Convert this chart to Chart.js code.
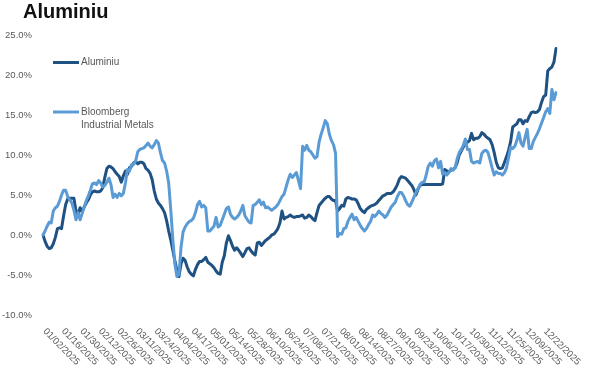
<!DOCTYPE html>
<html>
<head>
<meta charset="utf-8">
<script src="https://cdn.jsdelivr.net/npm/chart.js@4.4.1/dist/chart.umd.min.js"></script>
<style>
  html, body { margin: 0; padding: 0; background: #ffffff; }
  #wrap { width: 600px; height: 372px; position: relative; }
</style>
</head>
<body>
<div id="wrap"><canvas id="c" width="600" height="372"></canvas></div>
<script>
// ---- data ----
const chartTitle = 'Aluminiu';
const seriesNames = ['Aluminiu', 'Bloomberg Industrial Metals'];

// trading-day calendar (NYSE 2025) used as categories
const holidays = ['2025-01-01','2025-01-09','2025-01-20','2025-02-17','2025-04-18','2025-05-26',
                  '2025-06-19','2025-07-04','2025-09-01','2025-11-27','2025-12-25'];
const categories = [];
(function () {
  const d = new Date(Date.UTC(2025, 0, 2));
  const end = new Date(Date.UTC(2025, 11, 31));
  while (d <= end) {
    const dow = d.getUTCDay();
    const iso = d.toISOString().slice(0, 10);
    if (dow !== 0 && dow !== 6 && holidays.indexOf(iso) < 0) {
      categories.push(iso.slice(5, 7) + '/' + iso.slice(8, 10) + '/' + iso.slice(0, 4));
    }
    d.setUTCDate(d.getUTCDate() + 1);
  }
})();

const tickLabels = ['01/02/2025','01/16/2025','01/30/2025','02/12/2025','02/26/2025','03/11/2025',
  '03/24/2025','04/04/2025','04/17/2025','05/01/2025','05/14/2025','05/28/2025','06/10/2025',
  '06/24/2025','07/08/2025','07/21/2025','08/01/2025','08/14/2025','08/27/2025','09/10/2025',
  '09/23/2025','10/06/2025','10/17/2025','10/30/2025','11/12/2025','11/25/2025','12/09/2025',
  '12/22/2025'];

const yMin = -10, yMax = 25, yStep = 5;
const yTickLabels = ['-10.0%', '-5.0%', '0.0%', '5.0%', '10.0%', '15.0%', '20.0%', '25.0%'];

// cumulative performance, %
const aluminiu = [
  0.0,-0.8,-1.4,-1.7,-1.6,-1.1,-0.3,0.8,0.9,0.8,
  2.4,3.8,4.5,4.6,4.6,4.6,3.0,2.6,3.4,2.9,
  3.5,4.0,4.4,5.0,5.4,5.5,5.4,5.4,5.5,5.9,
  7.2,8.3,8.6,8.5,8.3,7.9,7.6,7.3,6.6,7.4,
  8.0,7.6,8.4,8.6,9.0,9.2,8.9,9.1,9.1,8.9,
  8.3,8.1,7.7,6.9,5.5,4.5,4.0,3.7,3.3,2.8,
  1.8,0.5,-0.6,-1.9,-3.2,-4.4,-5.2,-3.6,-2.9,-3.2,
  -4.0,-4.6,-4.9,-5.1,-4.3,-3.7,-3.3,-3.3,-3.1,-2.8,
  -3.4,-3.6,-3.8,-4.1,-4.5,-4.8,-4.9,-3.4,-2.6,-1.0,
  -0.1,-0.7,-1.4,-1.9,-1.6,-1.9,-2.3,-2.7,-2.2,-1.7,
  -1.6,-2.0,-2.3,-2.5,-1.0,-0.9,-1.3,-1.0,-0.7,-0.5,
  -0.3,0.0,0.1,0.4,0.8,1.5,3.0,2.0,2.2,2.3,
  2.5,2.3,2.2,2.3,2.3,2.4,2.5,2.1,2.2,2.5,
  2.3,2.0,1.8,2.8,3.7,4.0,4.3,4.6,4.8,4.8,
  4.5,4.3,4.3,3.0,3.3,3.7,3.6,4.5,4.7,4.6,
  4.5,4.5,4.4,3.9,3.3,3.0,2.8,3.2,3.4,3.6,
  3.7,3.8,4.0,4.3,4.6,4.9,5.0,5.2,5.2,5.2,
  5.4,5.8,6.3,7.0,7.3,7.2,7.1,6.8,6.5,6.2,
  5.7,5.0,5.7,6.2,6.3,6.3,6.3,6.3,6.3,6.3,
  6.3,6.3,6.3,6.3,6.4,8.2,8.0,7.9,8.1,8.2,
  8.4,9.0,10.0,10.5,11.0,11.4,11.6,11.8,12.7,11.9,
  12.1,12.1,12.3,12.8,12.6,12.3,12.1,11.9,11.3,10.3,
  9.1,8.4,8.3,8.4,9.1,9.8,10.6,11.7,13.5,13.7,
  13.9,14.4,14.4,13.9,14.3,14.2,14.8,15.3,15.4,15.3,
  15.4,15.7,16.6,17.3,17.5,20.5,20.8,21.0,21.6,23.3
];

const bloombergIndustrial = [
  0.0,0.5,1.1,1.6,1.5,3.0,3.4,3.6,4.2,5.0,
  5.6,5.6,4.8,4.4,4.0,3.1,1.9,2.8,1.9,2.7,
  3.5,4.3,4.9,5.6,6.4,6.5,6.3,6.8,6.5,6.0,
  6.2,6.6,7.1,6.3,4.7,5.1,4.7,5.2,4.9,5.2,
  6.5,8.2,8.0,8.8,8.8,9.3,10.4,10.7,10.8,10.9,
  11.2,11.5,11.1,10.9,11.3,11.8,11.5,10.3,9.3,9.0,
  8.0,6.5,3.2,-0.5,-3.6,-5.2,-4.9,-1.5,0.4,1.0,
  1.4,1.7,1.8,2.1,2.8,3.8,4.2,3.5,3.7,3.4,
  0.5,0.5,0.8,1.1,2.2,1.0,1.2,1.9,2.6,3.3,
  3.5,2.6,2.2,2.0,2.2,2.5,3.0,3.7,2.4,2.0,
  1.6,1.5,3.7,3.8,4.1,4.4,3.8,4.1,3.4,3.5,
  3.3,3.1,3.3,3.5,3.8,4.3,4.8,5.1,6.0,6.9,
  7.6,7.2,7.5,7.8,6.8,5.8,11.1,10.6,11.2,10.6,
  10.4,10.0,9.6,9.8,11.6,12.6,13.4,14.3,13.9,12.6,
  11.8,11.3,10.2,-0.2,0.2,0.1,0.8,0.9,1.7,2.2,
  2.6,1.9,2.2,1.7,1.2,0.8,0.5,0.8,1.3,1.7,
  2.5,2.3,2.6,3.0,2.7,2.5,2.2,2.5,3.0,3.5,
  3.8,4.1,4.8,5.3,5.3,4.9,4.3,3.8,3.6,4.1,
  4.7,5.3,5.8,6.3,6.6,6.6,7.5,8.6,9.0,8.6,
  9.3,9.5,8.4,9.2,7.6,7.8,7.5,7.8,8.3,8.1,
  8.4,9.5,10.3,10.7,11.2,12.0,10.7,10.7,9.2,9.0,
  9.1,9.2,9.0,10.2,10.5,10.6,10.3,9.4,8.4,7.5,
  7.9,7.7,7.7,7.5,7.8,8.4,9.7,11.0,10.8,11.1,
  11.8,12.8,11.5,11.1,12.2,13.2,10.8,10.8,11.7,12.2,
  12.7,13.3,14.0,14.7,15.4,15.8,15.2,18.2,16.9,17.8
];

// ---- styles ----
const DARK = '#1F5283';
const LIGHT = '#5B9BD5';
const TEXT_GRAY = '#595959';
const FONT = '"Liberation Sans", Arial, sans-serif';

const overlayPlugin = {
  id: 'overlay',
  afterDraw(chart) {
    const ctx = chart.ctx;
    const xs = chart.scales.x;
    const area = chart.chartArea;
    ctx.save();
    // title
    ctx.fillStyle = '#111111';
    ctx.font = 'bold 20px ' + FONT;
    ctx.textAlign = 'left';
    ctx.textBaseline = 'alphabetic';
    ctx.fillText(chartTitle, 23, 18);

    // legend
    const ds = chart.data.datasets;
    const legendRows = [
      { color: ds[0].borderColor, y: 62.5, lines: [seriesNames[0]] },
      { color: ds[1].borderColor, y: 112, lines: ['Bloomberg', 'Industrial Metals'] }
    ];
    ctx.font = '10px ' + FONT;
    ctx.textBaseline = 'middle';
    legendRows.forEach(r => {
      ctx.strokeStyle = r.color;
      ctx.lineWidth = 3;
      ctx.lineCap = 'butt';
      ctx.beginPath();
      ctx.moveTo(53, r.y);
      ctx.lineTo(79, r.y);
      ctx.stroke();
      ctx.fillStyle = TEXT_GRAY;
      r.lines.forEach((t, k) => ctx.fillText(t, 81, r.y + k * 13));
    });

    // rotated x-axis labels
    ctx.font = '9.5px ' + FONT;
    ctx.fillStyle = TEXT_GRAY;
    ctx.textAlign = 'left';
    ctx.textBaseline = 'middle';
    tickLabels.forEach(lbl => {
      const idx = categories.indexOf(lbl);
      if (idx < 0) return;
      const x = xs.getPixelForValue(idx);
      ctx.save();
      ctx.translate(x + 1.5, area.bottom + 15);
      ctx.rotate(Math.PI / 4);
      ctx.fillText(lbl, 0, 0);
      ctx.restore();
    });
    ctx.restore();
  }
};

new Chart(document.getElementById('c'), {
  type: 'line',
  data: {
    labels: categories,
    datasets: [
      {
        label: seriesNames[0],
        data: aluminiu,
        borderColor: DARK,
        backgroundColor: DARK,
        borderWidth: 3,
        pointRadius: 0,
        tension: 0,
        borderCapStyle: 'round',
        borderJoinStyle: 'round',
        order: 1
      },
      {
        label: seriesNames[1],
        data: bloombergIndustrial,
        borderColor: LIGHT,
        backgroundColor: LIGHT,
        borderWidth: 3,
        pointRadius: 0,
        tension: 0,
        borderCapStyle: 'round',
        borderJoinStyle: 'round',
        order: 0
      }
    ]
  },
  options: {
    responsive: false,
    animation: false,
    devicePixelRatio: 1,
    layout: { padding: { left: 0, right: 44, top: 35, bottom: 57 } },
    plugins: {
      legend: { display: false },
      title: { display: false },
      tooltip: { enabled: false }
    },
    scales: {
      x: {
        type: 'category',
        display: false,
        offset: false
      },
      y: {
        type: 'linear',
        min: yMin,
        max: yMax,
        afterFit: function (scale) { scale.width = 43; },
        grid: { display: false, drawTicks: false },
        border: { display: false },
        ticks: {
          stepSize: yStep,
          padding: 11,
          color: TEXT_GRAY,
          font: { family: FONT, size: 9.5 },
          callback: function (value, index) { return yTickLabels[index]; }
        }
      }
    }
  },
  plugins: [overlayPlugin]
});
</script>
</body>
</html>
